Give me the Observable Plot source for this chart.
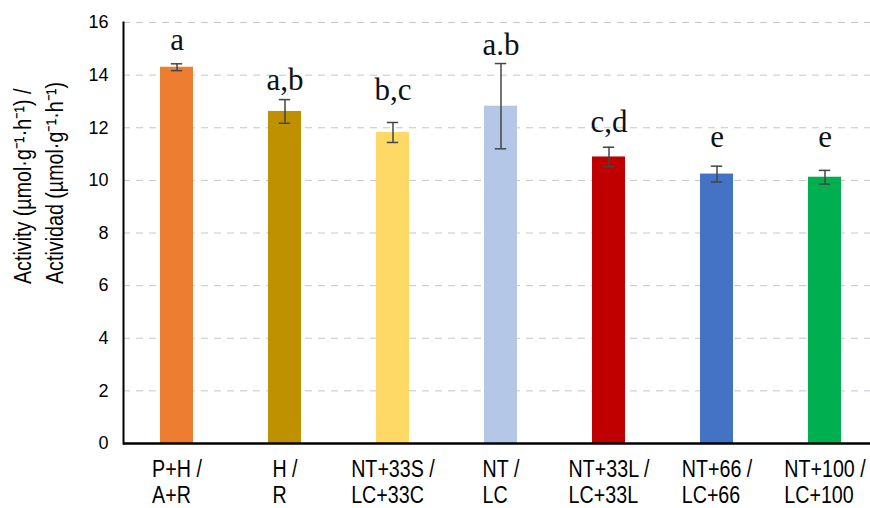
<!DOCTYPE html>
<html><head><meta charset="utf-8">
<script src="https://cdn.jsdelivr.net/npm/d3@7"></script>
<script src="https://cdn.jsdelivr.net/npm/@observablehq/plot@0.6"></script>
<style>body{margin:0;background:#fff}</style>
</head><body><div id="chart"></div>
<script>
const categories = ["P+H", "H", "NT+33S", "NT", "NT+33L", "NT+66", "NT+100"];
const tickLabels = ["P+H /\nA+R", "H /\nR", "NT+33S /\nLC+33C", "NT /\nLC", "NT+33L /\nLC+33L", "NT+66 /\nLC+66", "NT+100 /\nLC+100"];
const values = [14.30, 12.62, 11.82, 12.82, 10.89, 10.24, 10.12];
const errors = [0.13, 0.45, 0.38, 1.62, 0.37, 0.30, 0.26];
const letters = ["a", "a,b", "b,c", "a.b", "c,d", "e", "e"];
const letterY = [14.94, 13.42, 13.07, 14.75, 11.82, 11.25, 11.25];
const colors = ["#ED7D31", "#BF9000", "#FFD966", "#B4C7E7", "#C00000", "#4472C4", "#00B050"];
const yTicks = [0, 2, 4, 6, 8, 10, 12, 14, 16];
const yLabel = "Activity (µmol·g⁻¹·h⁻¹) /\nActividad (µmol·g⁻¹·h⁻¹)";

const data = categories.map((c, i) => ({
  cat: c, value: values[i], lo: values[i] - errors[i], hi: values[i] + errors[i],
  letter: letters[i], ly: letterY[i], color: colors[i]
}));

const sans = "'Liberation Sans',Arial,sans-serif";
const capInset = 10.8;

const plot = Plot.plot({
  width: 870, height: 508,
  marginLeft: 123, marginRight: 0, marginTop: 22, marginBottom: 65,
  style: {fontFamily: sans, background: "#fff", color: "#000", overflow: "visible"},
  x: {domain: categories, range: [123, 879], paddingInner: 0.69, paddingOuter: 0.345, label: null},
  y: {domain: [0, 16], label: null},
  marks: [
    Plot.gridY(yTicks.filter(d => d > 0), {stroke: "#c3c6d0", strokeOpacity: 1, strokeDasharray: "7,6", strokeWidth: 1}),
    Plot.barY(data, {x: "cat", y: "value", fill: "color"}),
    Plot.ruleX(data, {x: "cat", y1: "lo", y2: "hi", stroke: "#454545", strokeWidth: 1.5}),
    Plot.tickY(data, {x: "cat", y: "hi", insetLeft: capInset, insetRight: capInset, stroke: "#454545", strokeWidth: 1.5}),
    Plot.tickY(data, {x: "cat", y: "lo", insetLeft: capInset, insetRight: capInset, stroke: "#454545", strokeWidth: 1.5}),
    Plot.text(data, {x: "cat", y: "ly", text: "letter", lineAnchor: "bottom", fontFamily: "'Liberation Serif','Times New Roman',serif", fontSize: 31, fill: "#111"}),
    Plot.axisY({ticks: yTicks, tickSize: 0, tickPadding: 15, fontSize: 18, fill: "#000", label: null}),
    Plot.axisX({tickSize: 0, tickPadding: 16, fontSize: 24, lineHeight: 1.05, fill: "#000", label: null,
      tickFormat: d => tickLabels[categories.indexOf(d)]}),
    Plot.ruleY([0], {stroke: "#000", strokeWidth: 2.5}),
    Plot.frame({anchor: "left", stroke: "#000", strokeWidth: 2}),
    Plot.text([yLabel], {text: d => d, frameAnchor: "left", rotate: -90, textAnchor: "start", lineHeight: 1.33, fontSize: 24, fill: "#000", dx: -87, dy: 51})
  ]
});

document.getElementById("chart").append(plot);
// emulate a condensed face (Arial Narrow-like) by squeezing glyphs horizontally
const narrow = " scale(0.82,1)";
plot.querySelectorAll('g[aria-label="x-axis tick label"] text').forEach(t => {
  const spans = t.querySelectorAll("tspan");
  if (!spans.length) return;
  const w = spans[0].getComputedTextLength();
  t.setAttribute("text-anchor", "start");
  spans.forEach(s => s.setAttribute("x", -w / 2));
  t.setAttribute("transform", (t.getAttribute("transform") || "") + narrow);
});
plot.querySelectorAll('g[aria-label="text"]').forEach(g => {
  g.querySelectorAll("text").forEach(t => {
    const tr = t.getAttribute("transform") || "";
    if (tr.includes("rotate")) t.setAttribute("transform", tr + narrow);
  });
});
</script>
</body></html>
